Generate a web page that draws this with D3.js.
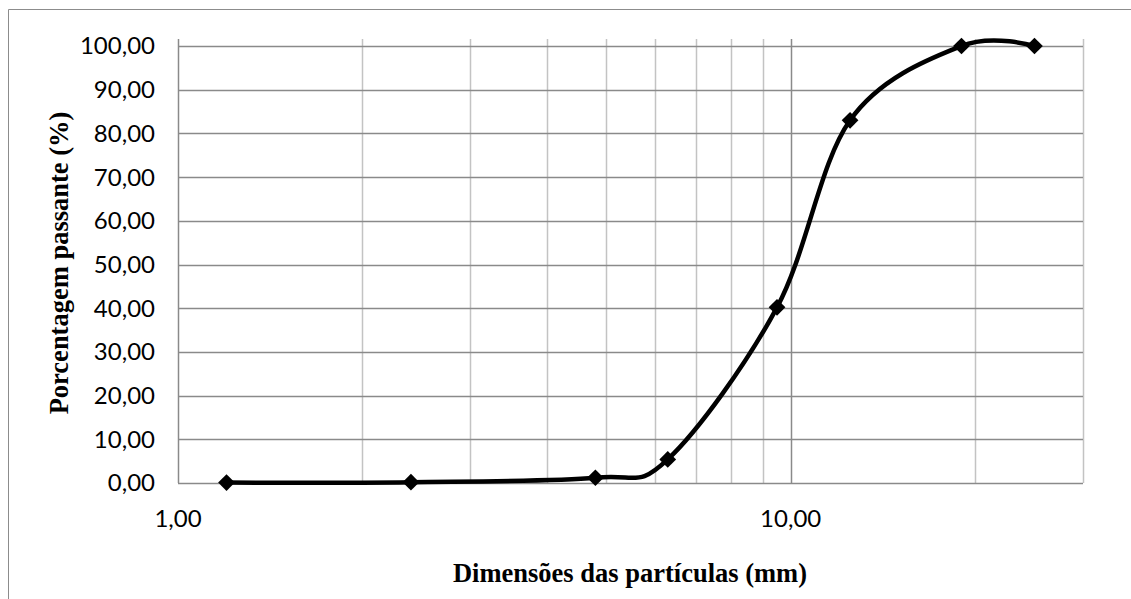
<!DOCTYPE html>
<html>
<head>
<meta charset="utf-8">
<script src="https://cdn.jsdelivr.net/npm/d3@7"></script>
<style>
  body { margin: 0; background: #fff; }
  svg { display: block; }
</style>
</head>
<body>
<svg id="canvas"></svg>
<script>
// dados da curva granulométrica
const sieves = [1.2, 2.4, 4.8, 6.3, 9.5, 12.5, 19, 25];
const passing = [0.1, 0.2, 1.2, 5.4, 40.2, 83.0, 100, 100];
const yTicks = [0, 10, 20, 30, 40, 50, 60, 70, 80, 90, 100];
const xLabelTicks = [1, 10];
const xGridTicks = [1, 2, 3, 4, 5, 6, 7, 8, 9, 10, 20, 30];
const xTitle = 'Dimensões das partículas (mm)';
const yTitle = 'Porcentagem passante (%)';

let w = 1131;
let h = 599;
let plotLeft = 178, plotRight = 1083, plotTop = 39, plotBottom = 483;

let canvas = d3.select('#canvas')
canvas.attr('width', w)
canvas.attr('height', h)

// borda do gráfico
canvas.append('path')
      .attr('d', `M8.5,${h} V9.5 H${w}`)
      .attr('fill', 'none')
      .attr('stroke', '#8c8c8c')
      .attr('stroke-width', 1)

let xScale = d3.scaleLog()
            .domain([1, 30])
            .range([plotLeft, plotRight])

let yScale = d3.scaleLinear()
            .domain([0, 100])
            .range([plotBottom, 46])

const fmt = v => d3.format('.2f')(v).replace('.', ',')

// linhas de grade verticais
canvas.append('g')
      .selectAll('line')
      .data(xGridTicks)
      .enter()
      .append('line')
      .attr('x1', d => Math.round(xScale(d)) + 0.5)
      .attr('x2', d => Math.round(xScale(d)) + 0.5)
      .attr('y1', plotTop)
      .attr('y2', plotBottom)
      .attr('stroke', d => (d === 1 || d === 10) ? '#8a8a8a' : '#c3c3c3')
      .attr('stroke-width', 1.5)

// linhas de grade horizontais
canvas.append('g')
      .selectAll('line')
      .data(yTicks)
      .enter()
      .append('line')
      .attr('x1', plotLeft)
      .attr('x2', plotRight)
      .attr('y1', d => Math.round(yScale(d)) + 0.5)
      .attr('y2', d => Math.round(yScale(d)) + 0.5)
      .attr('stroke', '#8a8a8a')
      .attr('stroke-width', 1.5)

// rótulos do eixo y
canvas.append('g')
      .selectAll('text')
      .data(yTicks)
      .enter()
      .append('text')
      .attr('x', 155)
      .attr('y', d => yScale(d))
      .attr('dy', '0.35em')
      .attr('text-anchor', 'end')
      .attr('font-family', 'Lato, sans-serif')
      .attr('font-size', 24)
      .attr('fill', '#000')
      .text(d => fmt(d))

// rótulos do eixo x
canvas.append('g')
      .selectAll('text')
      .data(xLabelTicks)
      .enter()
      .append('text')
      .attr('x', d => xScale(d))
      .attr('y', 519)
      .attr('dy', '0.35em')
      .attr('text-anchor', 'middle')
      .attr('font-family', 'Lato, sans-serif')
      .attr('font-size', 24)
      .attr('fill', '#000')
      .text(d => fmt(d))

// títulos dos eixos
canvas.append('text')
      .attr('x', 630)
      .attr('y', 582)
      .attr('text-anchor', 'middle')
      .attr('font-family', '"Liberation Serif", "Times New Roman", serif')
      .attr('font-weight', 'bold')
      .attr('font-size', 26.5)
      .text(xTitle)

canvas.append('text')
      .attr('transform', 'translate(68, 263) rotate(-90)')
      .attr('text-anchor', 'middle')
      .attr('font-family', '"Liberation Serif", "Times New Roman", serif')
      .attr('font-weight', 'bold')
      .attr('font-size', 26.5)
      .text(yTitle)

// curva suavizada
let pts = sieves.map((s, i) => [s, passing[i]])

let line = d3.line()
            .x(d => xScale(d[0]))
            .y(d => yScale(d[1]))
            .curve(d3.curveCardinal.tension(0))

canvas.append('path')
      .datum(pts)
      .attr('d', line)
      .attr('fill', 'none')
      .attr('stroke', '#000')
      .attr('stroke-width', 4.5)
      .attr('stroke-linejoin', 'round')

// marcadores (losangos)
canvas.append('g')
      .selectAll('path')
      .data(pts)
      .enter()
      .append('path')
      .attr('d', d3.symbol(d3.symbolSquare, 140))
      .attr('transform', d => `translate(${xScale(d[0])}, ${yScale(d[1])}) rotate(45)`)
      .attr('fill', '#000')
</script>
</body>
</html>
